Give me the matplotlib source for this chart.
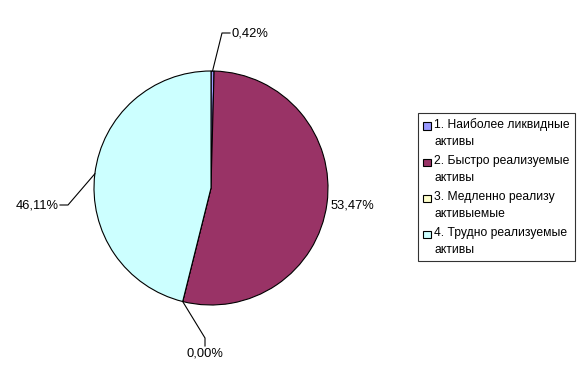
import numpy as np
import matplotlib.pyplot as plt
from matplotlib.patches import Patch, Rectangle
from matplotlib.legend_handler import HandlerPatch

plt.rcParams['font.family'] = ['Liberation Sans', 'DejaVu Sans']

# data
labels = ["1. Наиболее ликвидные\nактивы",
          "2. Быстро реализуемые\nактивы",
          "3. Медленно реализу\nактивыемые",
          "4. Трудно реализуемые\nактивы"]
shares = [0.42, 53.47, 0.00, 46.11]
pct_text = ["0,42%", "53,47%", "0,00%", "46,11%"]
colors = ["#9999FF", "#993366", "#FFFFCC", "#CCFFFF"]

fig = plt.figure(figsize=(5.84, 3.78), dpi=100)

# pie centre (211, 188) px, radius 117 px
cx, cy, r = 211, 188, 117
W, H = 584, 378
ax = fig.add_axes([(cx - r) / W, (H - cy - r) / H, 2 * r / W, 2 * r / H])
ax.pie(shares, colors=colors, startangle=90, counterclock=False, radius=1,
       wedgeprops=dict(edgecolor='black', linewidth=0.8))
ax.set_xlim(-1, 1)
ax.set_ylim(-1, 1)
ax.set_aspect('equal')
ax.axis('off')

# mid angles of each slice
cum = np.cumsum([0] + shares[:-1])
mid = np.deg2rad(90 - (cum + np.array(shares) / 2) * 3.6)
ex, ey = np.cos(mid), np.sin(mid)

def px(x, y):
    # pixel -> data units
    return (x - cx) / r, (cy - y) / r

lw = 0.8
fs = 9.3
# 0,42%
e1 = px(222, 33); e2 = px(230, 33)
ax.plot([ex[0], e1[0], e2[0]], [ey[0], e1[1], e2[1]], color='black', lw=lw, clip_on=False)
t = px(232, 33)
ax.text(t[0], t[1], pct_text[0], ha='left', va='center', fontsize=fs)
# 53,47%
t = px(331, 205)
ax.text(t[0], t[1], pct_text[1], ha='left', va='center', fontsize=fs)
# 0,00%
e1 = px(205, 338); e2 = px(205, 346)
ax.plot([ex[2], e1[0], e2[0]], [ey[2], e1[1], e2[1]], color='black', lw=lw, clip_on=False)
t = px(205, 353)
ax.text(t[0], t[1], pct_text[2], ha='center', va='center', fontsize=fs)
# 46,11%
e1 = px(68, 205); e2 = px(60, 205)
ax.plot([ex[3], e1[0], e2[0]], [ey[3], e1[1], e2[1]], color='black', lw=lw, clip_on=False)
t = px(59, 205)
ax.text(t[0], t[1], pct_text[3], ha='right', va='center', fontsize=fs)


# legend squares sit next to the first text line
def top_square(legend, orig_handle, xdescent, ydescent, width, height, fontsize):
    return Rectangle((-xdescent, -ydescent + 0.6 * fontsize), width, height)


handles = [Patch(facecolor=c, edgecolor='black', linewidth=0.8) for c in colors]
leg = fig.legend(handles, labels, loc='upper left',
                 bbox_to_anchor=(418 / W, 1 - 113 / H), fontsize=8.7,
                 frameon=True, fancybox=False, handlelength=0.6, handleheight=0.6,
                 handletextpad=0.3, labelspacing=0.62, borderpad=0.45,
                 borderaxespad=0,
                 handler_map={Patch: HandlerPatch(patch_func=top_square)})
for txt in leg.get_texts():
    txt.set_linespacing(1.5)
leg.get_frame().set_edgecolor('black')
leg.get_frame().set_linewidth(0.8)

fig.savefig("out.png", dpi=100)
